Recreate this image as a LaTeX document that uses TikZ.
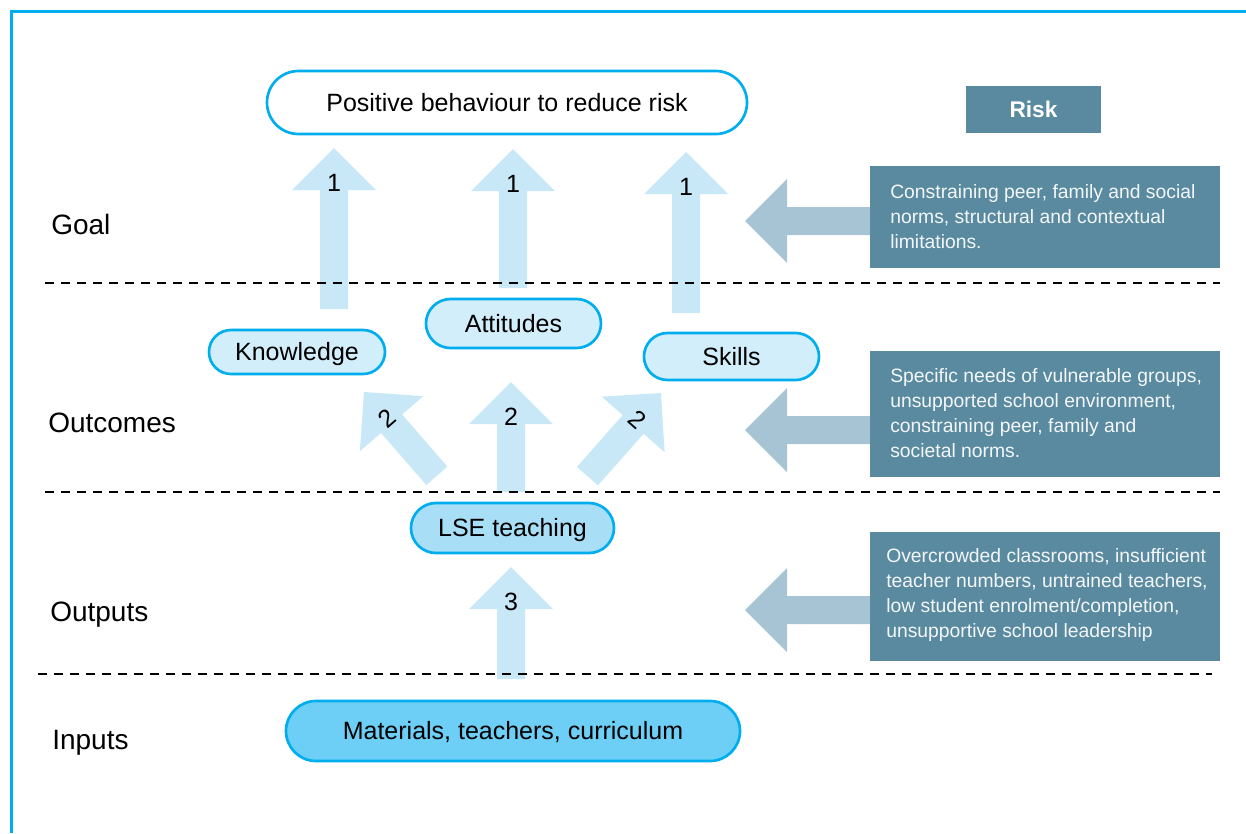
\documentclass[tikz,border=0pt]{standalone}
\usepackage{fontspec}
\setmainfont{Liberation Sans}
\usetikzlibrary{shapes.misc}
\definecolor{frameblue}{HTML}{00AEEF}
\definecolor{arrowlight}{HTML}{C8E8F8}
\definecolor{riskarrow}{HTML}{A6C4D4}
\definecolor{riskbox}{HTML}{5A8A9F}
\definecolor{fillA}{HTML}{D2EEFB}
\definecolor{fillB}{HTML}{A8DFF7}
\definecolor{fillC}{HTML}{6DCFF6}
\definecolor{risktxt}{HTML}{F4F7F9}
\newcommand\blockarr[6]{% #1 name, #2 tip, #3 rotation, #4 length, #5 colour, #6 label
  \begin{scope}[shift={#2},rotate=#3]
    \fill[#5] (0,0) -- (42,42) -- (14,42) -- (14,#4) -- (-14,#4) -- (-14,42) -- (-42,42) -- cycle;
    \node[numlab,rotate=#3] (#1) at (0,35) {#6};
  \end{scope}}
\begin{document}
\begin{tikzpicture}[x=0.75pt,y=-0.75pt,
  stadium/.style={rounded rectangle, draw=frameblue, line width=2pt, inner sep=0pt,
    text height=13.4pt, text depth=0pt, font=\fontsize{18.75}{22}\selectfont},
  stage/.style={anchor=base west, inner sep=0pt, font=\fontsize{21}{24}\selectfont},
  numlab/.style={inner sep=0pt, text height=13.4pt, text depth=0pt, font=\fontsize{18.75}{22}\selectfont},
  riskrect/.style={fill=riskbox, inner sep=0pt, minimum width=262.5pt},
  risktext/.style={anchor=west, align=left, inner sep=0pt, text=risktxt,
    font=\fontsize{14.5}{18.75}\selectfont},
  sepline/.style={dash pattern=on 6.75pt off 5.25pt, line width=2.2pt}]
\useasboundingbox (0,0) rectangle (1246,833);

% frame
\coordinate (fbl) at (11.5,833);
\coordinate (ftl) at (11.5,11.5);
\coordinate (ftr) at (1246,11.5);
\draw[frameblue, line width=2.2pt] (fbl) -- (ftl) -- (ftr);

% block arrows
\blockarr{n1a}{(334,148)}{0}{161}{arrowlight}{1}
\blockarr{n1b}{(513,149)}{0}{139}{arrowlight}{1}
\blockarr{n1c}{(686,152)}{0}{161}{arrowlight}{1}
\blockarr{n2a}{(364,392)}{41}{111}{arrowlight}{2}
\blockarr{n2b}{(511,382)}{0}{110}{arrowlight}{2}
\blockarr{n2c}{(661,393)}{-41.5}{111}{arrowlight}{2}
\blockarr{n3}{(511,567)}{0}{112}{arrowlight}{3}
\blockarr{r1}{(745,221)}{90}{125}{riskarrow}{}
\blockarr{r2}{(745,430)}{90}{125}{riskarrow}{}
\blockarr{r3}{(745,610)}{90}{125}{riskarrow}{}

% dashed separators
\coordinate (d1a) at (45,283);  \coordinate (d1b) at (1220,283);
\coordinate (d2a) at (45,492);  \coordinate (d2b) at (1220,492);
\coordinate (d3a) at (38,674);  \coordinate (d3b) at (1212,674);
\draw[sepline] (d1a) -- (d1b);
\draw[sepline] (d2a) -- (d2b);
\draw[sepline] (d3a) -- (d3b);

% stage labels
\node[stage] (goal) at (51,234) {Goal};
\node[stage] (outc) at (48,432) {Outcomes};
\node[stage] (outp) at (50,621) {Outputs};
\node[stage] (inp) at (52,749) {Inputs};

% main nodes
\node[stadium, fill=white, minimum width=360pt, minimum height=47.25pt] (goalbox) at (507,102.5) {Positive behaviour to reduce risk};
\node[stadium, fill=fillA, minimum width=132pt, minimum height=33pt] (know) at (297,352) {Knowledge};
\node[stadium, fill=fillA, minimum width=131.25pt, minimum height=36.75pt] (att) at (513.5,323.5) {Attitudes};
\node[stadium, fill=fillA, minimum width=131.25pt, minimum height=35.25pt] (skill) at (731.5,356.5) {Skills};
\node[stadium, fill=fillB, minimum width=152.25pt, minimum height=37.5pt] (lse) at (512.5,528) {LSE teaching};
\node[stadium, fill=fillC, minimum width=340.5pt, minimum height=45pt] (mat) at (513,731) {Materials, teachers, curriculum};

% risk column
\node[fill=riskbox, inner sep=0pt, minimum width=101.25pt, minimum height=35.25pt,
  text=white, font=\bfseries\fontsize{17}{20}\selectfont] (risk) at (1033.5,109.5) {Risk};
\node[riskrect, minimum height=76.5pt] (rb1) at (1045,217) {};
\node[riskrect, minimum height=94.5pt] (rb2) at (1045,414) {};
\node[riskrect, minimum height=96.75pt] (rb3) at (1045,596.5) {};
\node[risktext] (rt1) at (890,217) {Constraining peer, family and social\\norms, structural and contextual\\limitations.};
\node[risktext] (rt2) at (890,413.5) {Specific needs of vulnerable groups,\\unsupported school environment,\\constraining peer, family and\\societal norms.};
\node[risktext] (rt3) at (886,594.5) {Overcrowded classrooms, insufficient\\teacher numbers, untrained teachers,\\low student enrolment/completion,\\unsupportive school leadership};
\end{tikzpicture}
\end{document}
